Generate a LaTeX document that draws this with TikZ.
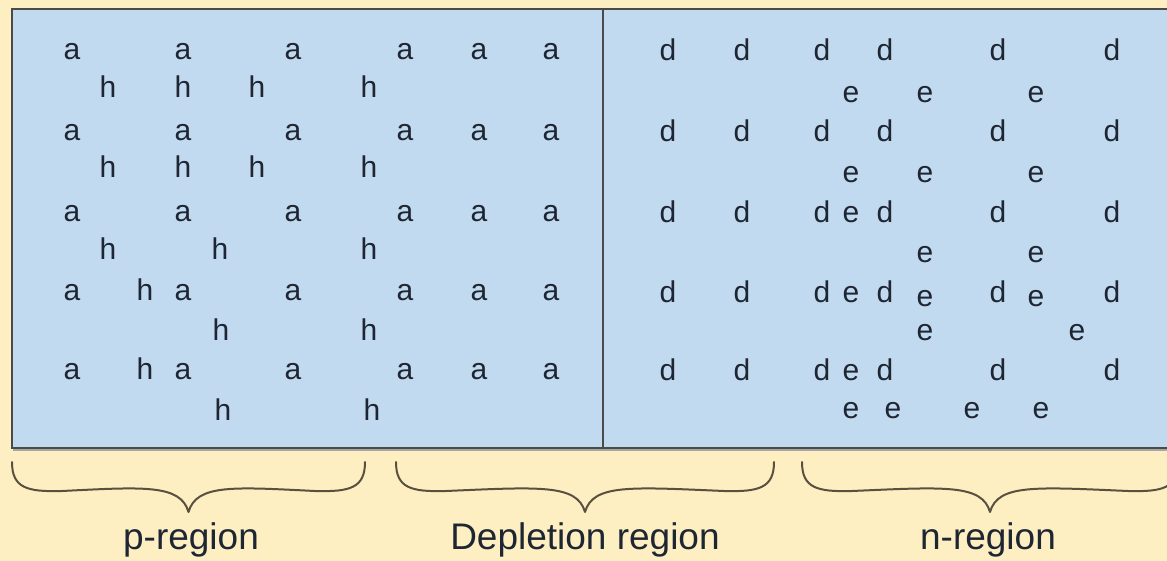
\documentclass[tikz,border=0pt]{standalone}
\usepackage{fontspec}
\setmainfont{Liberation Sans}
\definecolor{paper}{HTML}{FDEFC2}
\definecolor{crystal}{HTML}{C2DAF0}
\definecolor{ink}{HTML}{1E2633}
\definecolor{frame}{HTML}{4A4A4A}
\definecolor{bracecol}{HTML}{5A5040}

% brace drawn from x1 to x2 with its tip at the midpoint
\newcommand{\regionbrace}[3]{%
  \pgfmathsetmacro{\bxa}{#1}\pgfmathsetmacro{\bxb}{#2}%
  \pgfmathsetmacro{\bxm}{(#1+#2)/2}%
  \coordinate (#3) at (\bxm,512);
  \draw[bracestroke]
    (\bxa,462) .. controls (\bxa,488) and (\bxa+15,492) .. (\bxa+50,491)
    .. controls (\bxm-45,487) and (\bxm-8,484) .. (#3)
    .. controls (\bxm+8,484) and (\bxm+45,487) .. (\bxb-50,491)
    .. controls (\bxb-15,492) and (\bxb,488) .. (\bxb,462);
}

\begin{document}
\begin{tikzpicture}[x=1pt,y=-1pt,
  carrier/.style={font=\fontsize{30}{32}\selectfont, text=ink, anchor=base, inner sep=0pt},
  regionlabel/.style={font=\fontsize{37}{40}\selectfont, text=ink, anchor=center, inner sep=0pt},
  bracestroke/.style={draw=bracecol, line width=2pt, line cap=round, line join=round}]

% background and bounding box
\fill[paper] (0,0) rectangle (1167,561);
\useasboundingbox (0,0) rectangle (1167,561);

% crystal block
\fill[crystal] (12,9) rectangle (1175,448);
\draw[gray!70, line width=2pt] (13,450) -- (1175,450);
\draw[frame, line width=2.2pt] (1175,9) -- (12,9) -- (12,448) -- (1175,448);
\draw[frame, line width=1.4pt] (603,9) -- (603,448);

% acceptors (p side)
\foreach \y in {60,141,222,301,379}{
  \foreach \x [count=\i] in {72,183,293,405,479,551}{
    \node[carrier] (a-\i-\y) at (\x,\y) {a};
  }
}

% holes
\foreach \x [count=\i] in {108,183,257,369}{
  \node[carrier] (h1-\i) at (\x,98) {h};
  \node[carrier] (h2-\i) at (\x,178) {h};
}
\foreach \x [count=\i] in {108,220,369}{
  \node[carrier] (h3-\i) at (\x,260) {h};
}
\node[carrier] (h4-1) at (145,301) {h};
\node[carrier] (h5-1) at (221,340) {h};
\node[carrier] (h5-2) at (369,340) {h};
\node[carrier] (h6-1) at (145,379) {h};
\node[carrier] (h7-1) at (223,420) {h};
\node[carrier] (h7-2) at (372,420) {h};

% donors (n side)
\foreach \y in {61,142,223,302,380}{
  \foreach \x [count=\i] in {668,742,822,885,998,1112}{
    \node[carrier] (d-\i-\y) at (\x,\y) {d};
  }
}

% electrons
\foreach \x [count=\i] in {851,925,1036}{
  \node[carrier] (e1-\i) at (\x,103) {e};
  \node[carrier] (e2-\i) at (\x,183) {e};
}
\node[carrier] (e3-1) at (851,223) {e};
\node[carrier] (e4-1) at (925,263) {e};
\node[carrier] (e4-2) at (1036,263) {e};
\node[carrier] (e5-1) at (851,302) {e};
\node[carrier] (e5-2) at (925,306) {e};
\node[carrier] (e5-3) at (1036,306) {e};
\node[carrier] (e6-1) at (925,340) {e};
\node[carrier] (e6-2) at (1077,340) {e};
\node[carrier] (e7-1) at (851,380) {e};
\foreach \x [count=\i] in {851,893,972,1041}{
  \node[carrier] (e8-\i) at (\x,418) {e};
}

% region braces and labels
\regionbrace{12}{365}{ptip}
\regionbrace{396}{774}{dtip}
\regionbrace{802}{1178}{ntip}

\node[regionlabel] (plabel) at (191,540) {p-region};
\node[regionlabel] (dlabel) at (585,540) {Depletion region};
\node[regionlabel] (nlabel) at (988,540) {n-region};
\end{tikzpicture}
\end{document}
